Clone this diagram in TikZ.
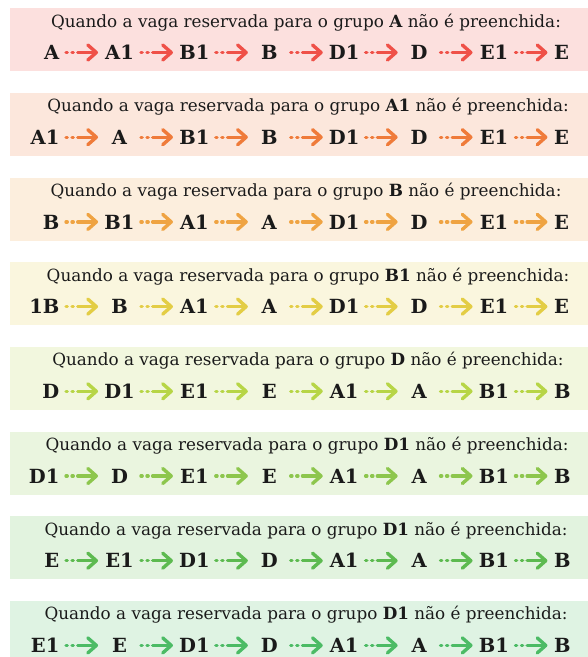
\documentclass[tikz,border=0pt]{standalone}
\usepackage{fontspec}
\setmainfont{DejaVu Serif}
\usetikzlibrary{arrows.meta, positioning}
\definecolor{cred}{HTML}{EF5148}
\definecolor{corange}{HTML}{EF7B3A}
\definecolor{camber}{HTML}{EFA342}
\definecolor{cyellow}{HTML}{E3CD45}
\definecolor{clime}{HTML}{B7D546}
\definecolor{cgrass}{HTML}{8DC64D}
\definecolor{cgreen}{HTML}{5DBA50}
\definecolor{cmint}{HTML}{4CBB65}
\definecolor{cink}{HTML}{1A1A1A}
\tikzset{
  panel/.style={fill=#1!18, anchor=north west, minimum width=578pt, minimum height=63pt, inner sep=0pt},
  title/.style={font=\fontsize{16.8}{19}\selectfont, text=cink, anchor=base, inner sep=0pt},
  cell/.style={font=\bfseries\fontsize{19.5}{22}\selectfont, text=cink, inner sep=0pt, text height=14.2pt, text depth=0pt, minimum width=37.5pt},
  lead/.style={cell, minimum width=0pt, inner xsep=4pt},
  flow/.style={draw=#1, line width=3.4pt, line cap=round, shorten <=2.5pt, shorten >=2.5pt, dash pattern=on 1.2pt off 4.8pt on 1.2pt off 4.5pt on 60pt, -{Straight Barb[round, length=8.5pt, width=15pt]}},
}
\begin{document}
\begin{tikzpicture}[x=1pt, y=-1pt, node distance=37pt]
  \useasboundingbox (0,0) rectangle (588,657);
  % A
  \begin{scope}
    \node[panel=cred] (p) at (10,8) {};
    \node[title] (t) at (306,27) {Quando a vaga reservada para o grupo \textbf{A} não é preenchida:};
    \node[cell] (s2) at (119.5,52.5) {A1};
    \node[lead, left=of s2] (s1) {A};
    \node[cell, right=of s2] (s3) {B1}; \node[cell, right=of s3] (s4) {B}; \node[cell, right=of s4] (s5) {D1};
    \node[cell, right=of s5] (s6) {D}; \node[cell, right=of s6] (s7) {E1}; \node[lead, right=of s7] (s8) {E};
    \draw[flow=cred] (s1) -- (s2); \draw[flow=cred] (s2) -- (s3); \draw[flow=cred] (s3) -- (s4); \draw[flow=cred] (s4) -- (s5);
    \draw[flow=cred] (s5) -- (s6); \draw[flow=cred] (s6) -- (s7); \draw[flow=cred] (s7) -- (s8);
  \end{scope}
  % A1
  \begin{scope}[yshift=-84.7pt]
    \node[panel=corange] (p) at (10,8) {};
    \node[title] (t) at (308,27) {Quando a vaga reservada para o grupo \textbf{A1} não é preenchida:};
    \node[cell] (s2) at (119.5,52.5) {A};
    \node[lead, left=of s2] (s1) {A1};
    \node[cell, right=of s2] (s3) {B1}; \node[cell, right=of s3] (s4) {B}; \node[cell, right=of s4] (s5) {D1};
    \node[cell, right=of s5] (s6) {D}; \node[cell, right=of s6] (s7) {E1}; \node[lead, right=of s7] (s8) {E};
    \draw[flow=corange] (s1) -- (s2); \draw[flow=corange] (s2) -- (s3); \draw[flow=corange] (s3) -- (s4); \draw[flow=corange] (s4) -- (s5);
    \draw[flow=corange] (s5) -- (s6); \draw[flow=corange] (s6) -- (s7); \draw[flow=corange] (s7) -- (s8);
  \end{scope}
  % B
  \begin{scope}[yshift=-169.4pt]
    \node[panel=camber] (p) at (10,8) {};
    \node[title] (t) at (306,27) {Quando a vaga reservada para o grupo \textbf{B} não é preenchida:};
    \node[cell] (s2) at (119.5,52.5) {B1};
    \node[lead, left=of s2] (s1) {B};
    \node[cell, right=of s2] (s3) {A1}; \node[cell, right=of s3] (s4) {A}; \node[cell, right=of s4] (s5) {D1};
    \node[cell, right=of s5] (s6) {D}; \node[cell, right=of s6] (s7) {E1}; \node[lead, right=of s7] (s8) {E};
    \draw[flow=camber] (s1) -- (s2); \draw[flow=camber] (s2) -- (s3); \draw[flow=camber] (s3) -- (s4); \draw[flow=camber] (s4) -- (s5);
    \draw[flow=camber] (s5) -- (s6); \draw[flow=camber] (s6) -- (s7); \draw[flow=camber] (s7) -- (s8);
  \end{scope}
  % B1
  \begin{scope}[yshift=-254.1pt]
    \node[panel=cyellow] (p) at (10,8) {};
    \node[title] (t) at (308,27) {Quando a vaga reservada para o grupo \textbf{B1} não é preenchida:};
    \node[cell] (s2) at (119.5,52.5) {B};
    \node[lead, left=of s2] (s1) {1B};
    \node[cell, right=of s2] (s3) {A1}; \node[cell, right=of s3] (s4) {A}; \node[cell, right=of s4] (s5) {D1};
    \node[cell, right=of s5] (s6) {D}; \node[cell, right=of s6] (s7) {E1}; \node[lead, right=of s7] (s8) {E};
    \draw[flow=cyellow] (s1) -- (s2); \draw[flow=cyellow] (s2) -- (s3); \draw[flow=cyellow] (s3) -- (s4); \draw[flow=cyellow] (s4) -- (s5);
    \draw[flow=cyellow] (s5) -- (s6); \draw[flow=cyellow] (s6) -- (s7); \draw[flow=cyellow] (s7) -- (s8);
  \end{scope}
  % D
  \begin{scope}[yshift=-338.8pt]
    \node[panel=clime] (p) at (10,8) {};
    \node[title] (t) at (308,27) {Quando a vaga reservada para o grupo \textbf{D} não é preenchida:};
    \node[cell] (s2) at (119.5,52.5) {D1};
    \node[lead, left=of s2] (s1) {D};
    \node[cell, right=of s2] (s3) {E1}; \node[cell, right=of s3] (s4) {E}; \node[cell, right=of s4] (s5) {A1};
    \node[cell, right=of s5] (s6) {A}; \node[cell, right=of s6] (s7) {B1}; \node[lead, right=of s7] (s8) {B};
    \draw[flow=clime] (s1) -- (s2); \draw[flow=clime] (s2) -- (s3); \draw[flow=clime] (s3) -- (s4); \draw[flow=clime] (s4) -- (s5);
    \draw[flow=clime] (s5) -- (s6); \draw[flow=clime] (s6) -- (s7); \draw[flow=clime] (s7) -- (s8);
  \end{scope}
  % D1
  \begin{scope}[yshift=-423.5pt]
    \node[panel=cgrass] (p) at (10,8) {};
    \node[title] (t) at (307,27) {Quando a vaga reservada para o grupo \textbf{D1} não é preenchida:};
    \node[cell] (s2) at (119.5,52.5) {D};
    \node[lead, left=of s2] (s1) {D1};
    \node[cell, right=of s2] (s3) {E1}; \node[cell, right=of s3] (s4) {E}; \node[cell, right=of s4] (s5) {A1};
    \node[cell, right=of s5] (s6) {A}; \node[cell, right=of s6] (s7) {B1}; \node[lead, right=of s7] (s8) {B};
    \draw[flow=cgrass] (s1) -- (s2); \draw[flow=cgrass] (s2) -- (s3); \draw[flow=cgrass] (s3) -- (s4); \draw[flow=cgrass] (s4) -- (s5);
    \draw[flow=cgrass] (s5) -- (s6); \draw[flow=cgrass] (s6) -- (s7); \draw[flow=cgrass] (s7) -- (s8);
  \end{scope}
  % E
  \begin{scope}[yshift=-508.2pt]
    \node[panel=cgreen] (p) at (10,8) {};
    \node[title] (t) at (306,27) {Quando a vaga reservada para o grupo \textbf{D1} não é preenchida:};
    \node[cell] (s2) at (119.5,52.5) {E1};
    \node[lead, left=of s2] (s1) {E};
    \node[cell, right=of s2] (s3) {D1}; \node[cell, right=of s3] (s4) {D}; \node[cell, right=of s4] (s5) {A1};
    \node[cell, right=of s5] (s6) {A}; \node[cell, right=of s6] (s7) {B1}; \node[lead, right=of s7] (s8) {B};
    \draw[flow=cgreen] (s1) -- (s2); \draw[flow=cgreen] (s2) -- (s3); \draw[flow=cgreen] (s3) -- (s4); \draw[flow=cgreen] (s4) -- (s5);
    \draw[flow=cgreen] (s5) -- (s6); \draw[flow=cgreen] (s6) -- (s7); \draw[flow=cgreen] (s7) -- (s8);
  \end{scope}
  % E1
  \begin{scope}[yshift=-592.9pt]
    \node[panel=cmint] (p) at (10,8) {};
    \node[title] (t) at (306,27) {Quando a vaga reservada para o grupo \textbf{D1} não é preenchida:};
    \node[cell] (s2) at (119.5,52.5) {E};
    \node[lead, left=of s2] (s1) {E1};
    \node[cell, right=of s2] (s3) {D1}; \node[cell, right=of s3] (s4) {D}; \node[cell, right=of s4] (s5) {A1};
    \node[cell, right=of s5] (s6) {A}; \node[cell, right=of s6] (s7) {B1}; \node[lead, right=of s7] (s8) {B};
    \draw[flow=cmint] (s1) -- (s2); \draw[flow=cmint] (s2) -- (s3); \draw[flow=cmint] (s3) -- (s4); \draw[flow=cmint] (s4) -- (s5);
    \draw[flow=cmint] (s5) -- (s6); \draw[flow=cmint] (s6) -- (s7); \draw[flow=cmint] (s7) -- (s8);
  \end{scope}
\end{tikzpicture}
\end{document}
